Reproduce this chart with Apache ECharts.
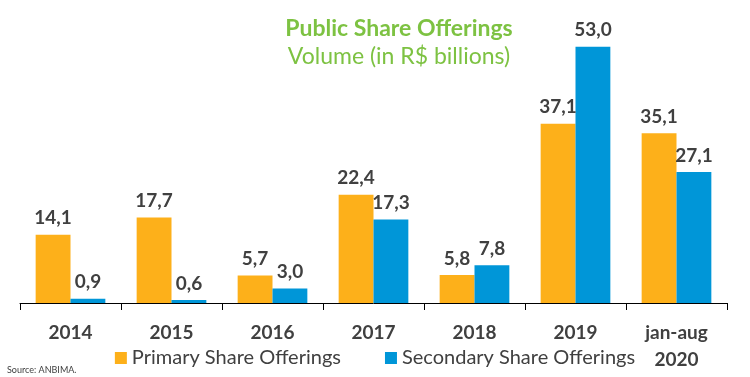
<!DOCTYPE html>
<html>
<head>
<meta charset="utf-8">
<script src="https://cdn.jsdelivr.net/npm/echarts@6/dist/echarts.min.js"></script>
<style>
  html, body { margin: 0; padding: 0; background: #fff; }
  #chart { width: 750px; height: 377px; }
</style>
</head>
<body>
<div id="chart"></div>
<script>
// categories and values
const categories = ['2014', '2015', '2016', '2017', '2018', '2019', 'jan-aug\n2020'];
const primaryOfferings = [14.1, 17.7, 5.7, 22.4, 5.8, 37.1, 35.1];
const secondaryOfferings = [0.9, 0.6, 3.0, 17.3, 7.8, 53.0, 27.1];

const ORANGE = '#FDB01A';
const BLUE = '#0096D8';
const GREEN = '#7DC242';
const TEXT = '#404040';
const FONT = 'Lato, "Open Sans", sans-serif';

const myChart = echarts.init(document.getElementById('chart'));

// comma as decimal separator
const fmt = (p) => p.value.toFixed(1).replace('.', ',');

const labelStyle = {
  show: true,
  position: 'top',
  distance: 7,
  color: TEXT,
  fontSize: 19,
  fontWeight: 'bold',
  fontFamily: FONT,
  formatter: fmt
};

const option = {
  animation: false,
  title: {
    text: 'Public Share Offerings',
    subtext: 'Volume (in R$ billions)',
    left: 394,
    textAlign: 'center',
    top: 12,
    itemGap: 5,
    textStyle: { color: GREEN, fontSize: 23, fontWeight: 'bold', fontFamily: FONT },
    subtextStyle: { color: GREEN, fontSize: 23, fontFamily: FONT }
  },
  legend: {
    bottom: 4,
    left: 'center',
    itemWidth: 12,
    itemHeight: 12,
    itemGap: 44,
    icon: 'rect',
    textStyle: { color: TEXT, fontSize: 20, fontFamily: FONT },
    data: ['Primary Share Offerings', 'Secondary Share Offerings']
  },
  graphic: [{
    type: 'text',
    left: 7,
    top: 366,
    style: { text: 'Source: ANBIMA.', fill: TEXT, font: '9px ' + FONT }
  }],
  grid: { left: 20, right: 23, top: 13, bottom: 74 },
  xAxis: {
    type: 'category',
    data: categories,
    axisLine: { lineStyle: { color: '#000', width: 1 } },
    axisTick: { show: true, length: 7, lineStyle: { color: '#000' } },
    axisLabel: {
      color: TEXT,
      fontSize: 19,
      fontWeight: 'bold',
      fontFamily: FONT,
      margin: 16,
      lineHeight: 27
    }
  },
  yAxis: {
    type: 'value',
    min: 0,
    max: 60,
    show: false,
    splitLine: { show: false }
  },
  series: [
    {
      name: 'Primary Share Offerings',
      type: 'bar',
      data: primaryOfferings,
      barGap: 0,
      barCategoryGap: '31%',
      itemStyle: { color: ORANGE },
      label: labelStyle
    },
    {
      name: 'Secondary Share Offerings',
      type: 'bar',
      data: secondaryOfferings,
      itemStyle: { color: BLUE },
      label: labelStyle
    }
  ]
};

myChart.setOption(option);
</script>
</body>
</html>
